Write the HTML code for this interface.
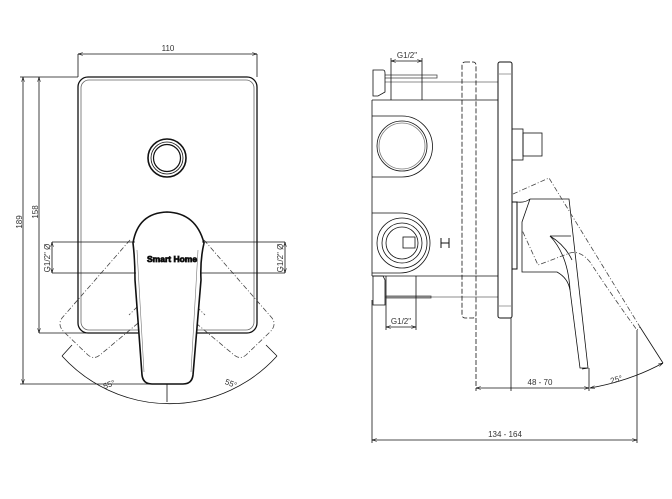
<!DOCTYPE html>
<html><head><meta charset="utf-8"><style>
html,body{margin:0;padding:0;background:#fff;width:672px;height:499px;overflow:hidden}
svg{display:block}
text{font-family:"Liberation Sans",sans-serif;font-size:8px;fill:#333}
</style></head><body>
<svg width="672" height="499" viewBox="0 0 672 499" xmlns="http://www.w3.org/2000/svg">
<defs>
<marker id="a" viewBox="0 0 10 10" refX="10" refY="5" markerWidth="6" markerHeight="6" orient="auto-start-reverse"><path d="M0,2 L10,5 L0,8" fill="none" stroke="#000" stroke-width="1"/></marker>
</defs>
<g fill="none" stroke="#111" stroke-width="0.8">
<!-- LEFT VIEW -->
<rect x="78" y="77" width="179" height="256" rx="10" stroke-width="1.3"/>
<rect x="81" y="80" width="173" height="250" rx="8" stroke="#666"/>
<line x1="78" y1="54" x2="257" y2="54" marker-start="url(#a)" marker-end="url(#a)"/>
<line x1="78" y1="54" x2="78" y2="77"/><line x1="257" y1="54" x2="257" y2="77"/>
<line x1="23" y1="77" x2="23" y2="384" marker-start="url(#a)" marker-end="url(#a)"/>
<line x1="20" y1="77" x2="78" y2="77"/>
<line x1="20" y1="384" x2="150" y2="384"/>
<line x1="39" y1="77" x2="39" y2="333" marker-start="url(#a)" marker-end="url(#a)"/>
<line x1="39" y1="333" x2="138" y2="333"/>
<circle cx="167" cy="158" r="19" stroke-width="1.6"/>
<circle cx="167" cy="158" r="16"/>
<circle cx="167" cy="158" r="13.5" stroke-width="1.2"/>
<g stroke-dasharray="5,2,1,2" stroke="#444">
<path d="M130,240 L62,318 Q57,325 64,332 L88,355 Q94,360 100,355 L168,298"/>
<path d="M204,240 L272,318 Q277,325 270,332 L246,355 Q240,360 234,355 L166,298"/>
<path d="M140,250 L205,315"/><path d="M194,250 L129,315"/>
</g>
<path d="M133,243 Q138,213 167,212 Q196,213 204,243 Q200,260 201,280 L193,375 Q192,384 183,384 L152,384 Q143,384 142,375 L135,280 Q135,260 133,243 Z" fill="#fff" stroke-width="1.6"/>
<path d="M137,250 L144,372 M198,250 L191,372" stroke="#777" stroke-width="0.6"/>
<text x="147" y="262" style="font-size:8.5px;font-weight:bold;fill:#000;font-family:'Liberation Sans Narrow','Liberation Sans',sans-serif">Smart Home</text>
<line x1="52" y1="242" x2="135" y2="242"/><line x1="52" y1="273" x2="136" y2="273"/>
<line x1="202" y1="242" x2="285" y2="242"/><line x1="201" y1="273" x2="285" y2="273"/>
<line x1="52" y1="242" x2="52" y2="273" marker-start="url(#a)" marker-end="url(#a)"/>
<line x1="285" y1="242" x2="285" y2="273" marker-start="url(#a)" marker-end="url(#a)"/>
<path d="M62,356 A145,145 0 0 0 277,356"/>
<line x1="62" y1="356" x2="72" y2="345"/><line x1="277" y1="356" x2="266" y2="345"/>
<line x1="167" y1="384" x2="167" y2="402"/>

<!-- RIGHT VIEW -->
<line x1="372" y1="100" x2="498" y2="100"/><line x1="372" y1="276" x2="498" y2="276"/>
<line x1="385" y1="82" x2="498" y2="82" stroke="#666"/><line x1="385" y1="297" x2="498" y2="297" stroke="#666"/>
<line x1="372" y1="100" x2="372" y2="276"/>
<path d="M385,75 L437,75 L437,78 L385,78" stroke="#444"/>
<path d="M386,296 L431,296 L431,298 L386,298" stroke="#444"/>
<path d="M373,70 L383,70 Q385,70 385,73 L385,92 L378,96 L373,96 Z"/>
<path d="M373,276 L383,276 L385,280 L385,305 L373,305 Z"/>
<path d="M372,116 L402,116 A30,30 0 0 1 402,177 L372,177" />
<circle cx="402" cy="146" r="25"/><circle cx="402" cy="146" r="23" stroke="#777"/>
<path d="M372,213 L400,213 A30,30 0 0 1 400,273 L372,273" />
<circle cx="402" cy="243" r="25"/><circle cx="402" cy="243" r="20"/><circle cx="402" cy="243" r="16"/>
<rect x="403" y="237" width="12" height="11"/>
<path d="M441,238 L441,248 M449,238 L449,248 M441,243 L449,243" stroke-width="1"/>
<rect x="462" y="62" width="14" height="256" rx="3" stroke-dasharray="5,2"/>
<rect x="498" y="62" width="14" height="256" rx="2" stroke-width="1"/>
<line x1="498" y1="74" x2="512" y2="74" stroke="#888"/><line x1="498" y1="306" x2="512" y2="306" stroke="#888"/>
<rect x="512" y="129" width="11" height="31"/><rect x="523" y="133" width="19" height="23"/>
<line x1="391" y1="61" x2="422" y2="61" marker-start="url(#a)" marker-end="url(#a)"/>
<line x1="391" y1="58" x2="391" y2="100"/><line x1="422" y1="58" x2="422" y2="100"/>
<line x1="386" y1="327" x2="416" y2="327" marker-start="url(#a)" marker-end="url(#a)"/>
<line x1="386" y1="276" x2="386" y2="330"/><line x1="416" y1="276" x2="416" y2="330"/>
<rect x="512" y="202" width="5" height="67" stroke-width="1"/>
<path d="M517,202 Q525,203 530,199 L569,199 L588,368 L582,369 M530,199 L522,222 L522,272 L557,272 Q568,278 570,290 L580,368 L588,368"/>
<path d="M550,236 L571,236 M550,236 Q568,255 570,290"/>
<path d="M550,236 Q565,245 572,260"/>
<g stroke-dasharray="5,2,1,2" stroke="#444">
<path d="M513,194 L549,178 L640,327 L637,330 Q615,300 590,262 Q580,250 570,253 L538,265 L522,230"/>
</g>
<line x1="372" y1="300" x2="372" y2="443"/>
<line x1="476" y1="318" x2="476" y2="391" stroke-dasharray="5,2"/>
<line x1="511" y1="318" x2="511" y2="391"/>
<line x1="589" y1="368" x2="589" y2="391"/>
<line x1="637" y1="330" x2="637" y2="443"/>
<line x1="476" y1="388" x2="589" y2="388" marker-start="url(#a)" marker-end="url(#a)"/>
<line x1="372" y1="440" x2="637" y2="440" marker-start="url(#a)" marker-end="url(#a)"/>
<line x1="640" y1="327" x2="663" y2="363"/>
<path d="M590,388 Q630,381 663,363" marker-start="url(#a)" marker-end="url(#a)"/>
</g>
<text x="168" y="51" text-anchor="middle">110</text>
<text transform="translate(22,222) rotate(-90)" text-anchor="middle">189</text>
<text transform="translate(38,212) rotate(-90)" text-anchor="middle">158</text>
<text transform="translate(50,258) rotate(-90)" text-anchor="middle">G1/2" Ø</text>
<text transform="translate(283,258) rotate(-90)" text-anchor="middle">G1/2" Ø</text>
<text transform="translate(110,387) rotate(-20)" text-anchor="middle">55°</text>
<text transform="translate(230,386) rotate(20)" text-anchor="middle">55°</text>
<text x="407" y="58" text-anchor="middle">G1/2"</text>
<text x="401" y="324" text-anchor="middle">G1/2"</text>
<text x="540" y="385" text-anchor="middle">48 - 70</text>
<text x="505" y="437" text-anchor="middle">134 - 164</text>
<text transform="translate(617,382) rotate(-15)" text-anchor="middle">25°</text>
</svg>
</body></html>
